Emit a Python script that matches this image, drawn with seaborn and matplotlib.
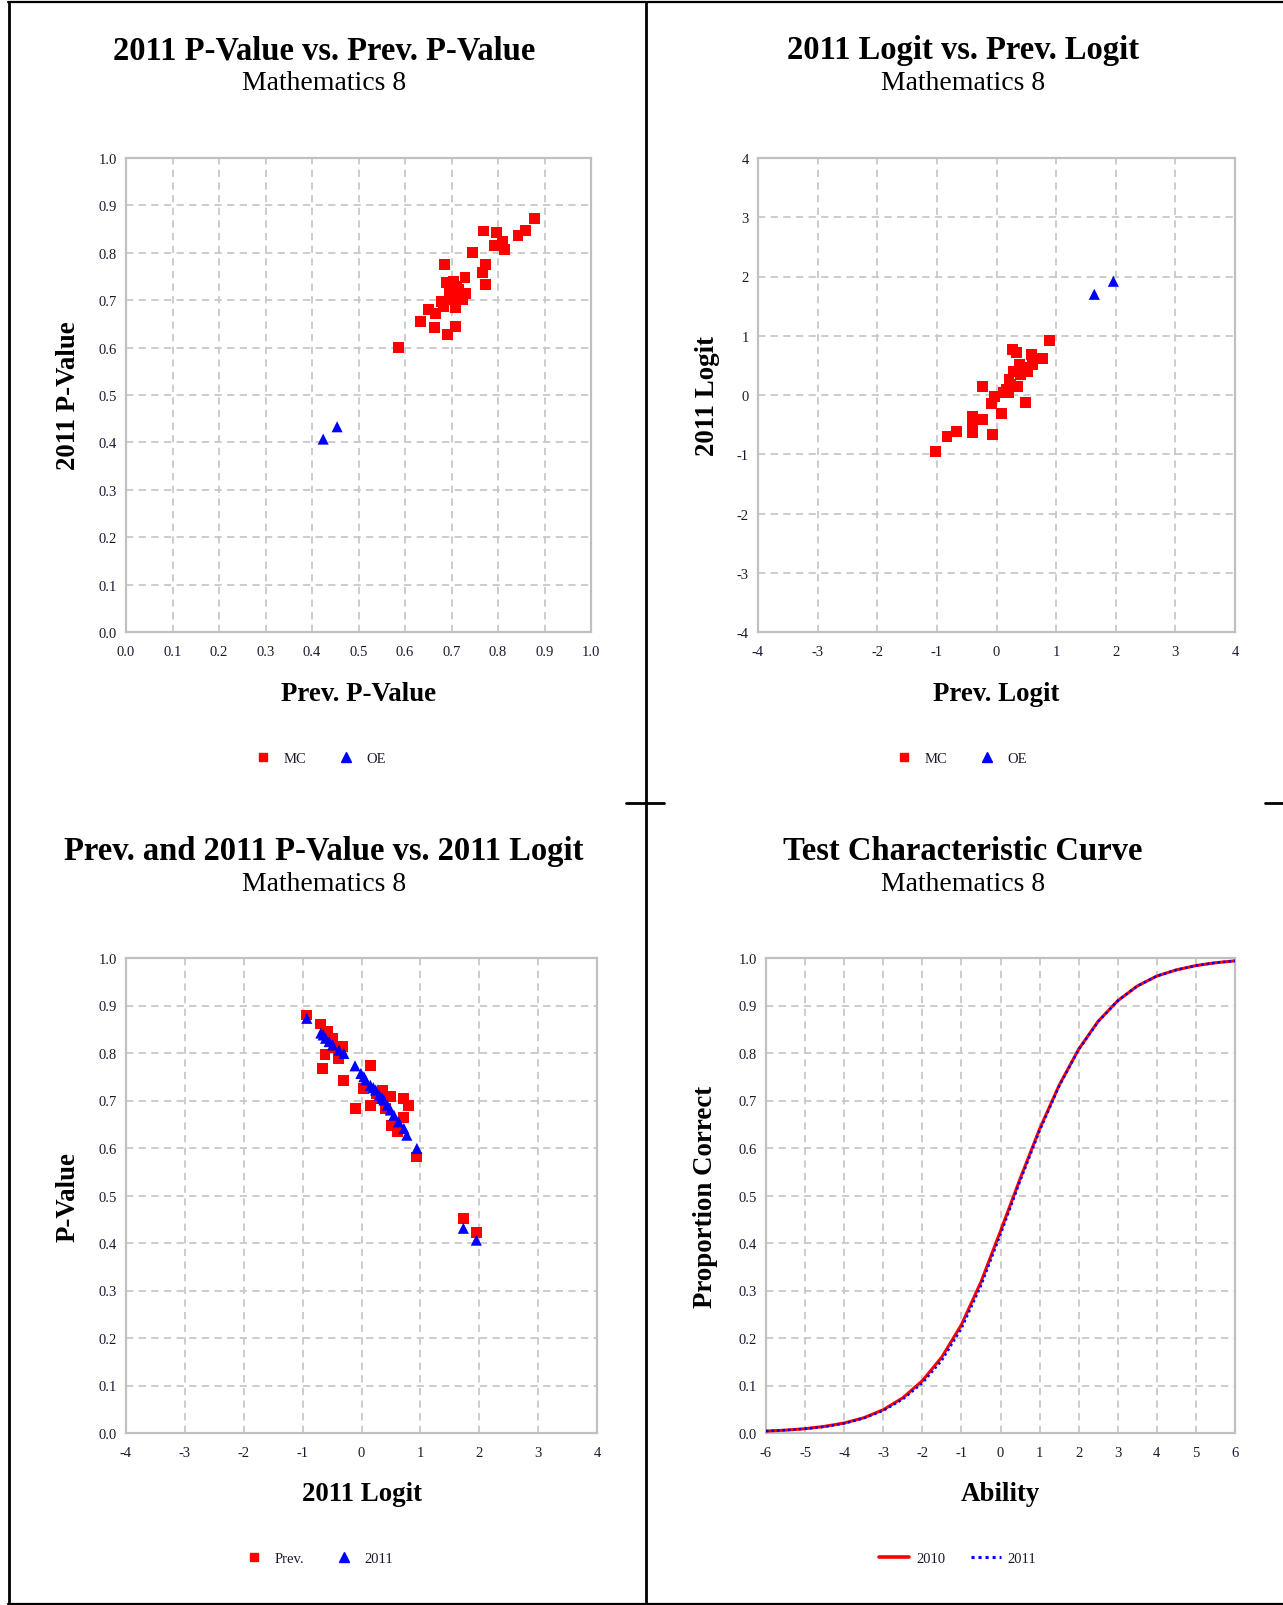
import numpy as np
import pandas as pd
import matplotlib
matplotlib.use("Agg")
import matplotlib.pyplot as plt
import seaborn as sns
from matplotlib.lines import Line2D

# ---------------- data ----------------
# Panel 1: 2011 P-Value vs Prev. P-Value
mc_prev_p = [0.586, 0.634, 0.664, 0.691, 0.708, 0.651, 0.666, 0.682, 0.679, 0.709,
             0.724, 0.731, 0.689, 0.711, 0.729, 0.696, 0.684, 0.745, 0.766, 0.774,
             0.773, 0.768, 0.796, 0.793, 0.809, 0.814, 0.843, 0.859, 0.879, 0.700,
             0.715, 0.705]
mc_cur_p = [0.600, 0.656, 0.643, 0.627, 0.644, 0.680, 0.671, 0.686, 0.698, 0.684,
            0.701, 0.715, 0.737, 0.730, 0.747, 0.715, 0.775, 0.800, 0.758, 0.775,
            0.734, 0.846, 0.842, 0.815, 0.823, 0.807, 0.837, 0.847, 0.873, 0.701,
            0.722, 0.740]
oe_prev_p = [0.424, 0.454]
oe_cur_p = [0.407, 0.433]

# Panel 2: 2011 Logit vs Prev. Logit
mc_prev_logit = [-1.02, -0.83, -0.67, -0.41, -0.41, -0.41, -0.24, -0.07, -0.23, -0.04,
                 -0.09, 0.09, 0.16, 0.21, 0.21, 0.29, 0.36, 0.27, 0.33, 0.48,
                 0.52, 0.59, 0.60, 0.48, 0.77, 0.89, 0.41, 0.24, 0.38, 0.12]
mc_cur_logit = [-0.95, -0.70, -0.61, -0.36, -0.53, -0.64, -0.41, -0.67, 0.14, -0.02,
                -0.14, -0.31, 0.09, 0.04, 0.26, 0.40, 0.15, 0.77, 0.71, 0.47,
                0.40, 0.68, 0.51, -0.12, 0.61, 0.92, 0.35, 0.18, 0.51, 0.05]
oe_prev_logit = [1.64, 1.96]
oe_cur_logit = [1.70, 1.92]

# Panel 3: Prev. and 2011 P-Value vs 2011 Logit
prev_logit_x = [-0.93, -0.69, -0.57, -0.62, -0.67, -0.39, -0.30, 0.15, 0.04, -0.10,
                0.15, 0.35, 0.49, 0.72, 0.80, 0.72, 0.51, 0.61, 0.94, -0.32,
                -0.49, 0.30, 0.41, 0.25, -0.45, 1.73, 1.95]
prev_pvalue = [0.880, 0.861, 0.845, 0.796, 0.768, 0.789, 0.743, 0.773, 0.725, 0.683,
               0.690, 0.722, 0.708, 0.704, 0.690, 0.665, 0.648, 0.634, 0.581, 0.813,
               0.831, 0.704, 0.683, 0.715, 0.812, 0.451, 0.423]
cur_logit_x = [-0.93, -0.69, -0.61, -0.49, -0.38, -0.30, -0.11, -0.01, 0.07, 0.15,
               0.24, 0.30, 0.38, 0.44, 0.49, 0.55, 0.63, 0.72, 0.77, 0.94,
               -0.65, 0.20, 0.35, 0.04, -0.55, 1.73, 1.95]
cur_pvalue = [0.873, 0.842, 0.831, 0.817, 0.806, 0.799, 0.773, 0.757, 0.743, 0.732,
              0.722, 0.711, 0.701, 0.690, 0.680, 0.669, 0.655, 0.641, 0.627, 0.599,
              0.838, 0.727, 0.705, 0.750, 0.824, 0.431, 0.406]

# Panel 4: Test Characteristic Curve
ability = [-6.0, -5.5, -5.0, -4.5, -4.0, -3.5, -3.0, -2.5, -2.0, -1.5, -1.0, -0.5,
           0.0, 0.5, 1.0, 1.5, 2.0, 2.5, 3.0, 3.5, 4.0, 4.5, 5.0, 5.5, 6.0]
tcc_2010 = [0.004, 0.006, 0.009, 0.014, 0.021, 0.032, 0.049, 0.074, 0.110, 0.160,
            0.228, 0.318, 0.425, 0.535, 0.640, 0.732, 0.808, 0.867, 0.910, 0.941,
            0.962, 0.975, 0.984, 0.990, 0.994]
tcc_2011 = [0.004, 0.006, 0.009, 0.013, 0.020, 0.031, 0.047, 0.071, 0.105, 0.153,
            0.220, 0.310, 0.418, 0.530, 0.636, 0.730, 0.807, 0.866, 0.910, 0.941,
            0.962, 0.975, 0.984, 0.990, 0.994]

titles = ["2011 P-Value vs. Prev. P-Value", "2011 Logit vs. Prev. Logit",
          "Prev. and 2011 P-Value vs. 2011 Logit", "Test Characteristic Curve"]
subtitle = "Mathematics 8"

# ---------------- style ----------------
sns.set_style("white")
SERIF = ["Liberation Serif", "DejaVu Serif"]
plt.rcParams["font.family"] = SERIF

W, H = 1283, 1606
fig = plt.figure(figsize=(W / 100, H / 100), dpi=100)
fig.patch.set_facecolor("white")

RED = "#ff0000"
BLUE = "#0000ff"
SPINE = "#c0c0c0"
GRID = "#c8c8c8"
TXT = "#1a1a2e"


def rect(l, t, r, b):
    return [l / W, 1 - b / H, (r - l) / W, (b - t) / H]


def style_axes(ax, xlim, ylim, xticks, yticks, xfmt, yfmt, xlabel, ylabel,
               ylab_x, xlab_y):
    ax.set_xlim(*xlim)
    ax.set_ylim(*ylim)
    ax.set_xticks(xticks)
    ax.set_yticks(yticks)
    ax.set_xticklabels([xfmt.format(v) for v in xticks])
    ax.set_yticklabels([yfmt.format(v) for v in yticks])
    ax.set_axisbelow(True)
    ax.grid(True, color=GRID, linestyle=(0, (4, 3)), linewidth=1.3)
    for s in ax.spines.values():
        s.set_visible(True)
        s.set_color(SPINE)
        s.set_linewidth(1.6)
    ax.tick_params(axis="both", which="major", direction="out", length=5,
                   width=1.1, color=SPINE, labelsize=10.5, labelcolor=TXT)
    ax.tick_params(axis="y", pad=1.5)
    ax.tick_params(axis="x", pad=4.5)
    ax.set_xlabel(xlabel, fontsize=19.4, fontweight="bold", color="black")
    ax.set_ylabel(ylabel, fontsize=19.4, fontweight="bold", color="black")
    ax.xaxis.set_label_coords(0.5, xlab_y)
    ax.yaxis.set_label_coords(ylab_x, 0.5)


def panel_titles(cx, ty, title):
    fig.text(cx / W, 1 - ty / H, title, ha="center", va="center",
             fontsize=23.5, fontweight="bold", color="black")
    fig.text(cx / W, 1 - (ty + 33) / H, subtitle, ha="center", va="center",
             fontsize=20, color="black")


def put_legend(ax, handles, labels, cx, cy, hl=1.0, htp=0.9, cs=2.2):
    ax.legend(handles, labels, loc="center", bbox_to_anchor=(cx / W, 1 - cy / H),
              bbox_transform=fig.transFigure, ncol=2, frameon=False,
              fontsize=10.5, handlelength=hl, handletextpad=htp, columnspacing=cs,
              labelcolor=TXT)


sq = dict(marker="s", s=62, color=RED, edgecolor="none", linewidth=0)
tri = dict(marker="^", s=64, color=BLUE, edgecolor="none", linewidth=0)
h_sq = Line2D([], [], marker="s", color=RED, linestyle="none", markersize=6)
h_tri = Line2D([], [], marker="^", color=BLUE, linestyle="none", markersize=6.5)

# ---- Panel 1 ----
ax1 = fig.add_axes(rect(126, 159, 591, 633))
sns.scatterplot(x=mc_prev_p, y=mc_cur_p, ax=ax1, zorder=3, **sq)
sns.scatterplot(x=oe_prev_p, y=oe_cur_p, ax=ax1, zorder=3, **tri)
t01 = [round(0.1 * i, 1) for i in range(11)]
style_axes(ax1, (0, 1), (0, 1), t01, t01, "{:.1f}", "{:.1f}",
           "Prev. P-Value", "2011 P-Value", -0.097, -0.103)
put_legend(ax1, [h_sq, h_tri], ["MC", "OE"], 321, 759)
panel_titles(324, 51, titles[0])

# ---- Panel 2 ----
ax2 = fig.add_axes(rect(758, 159, 1235, 633))
sns.scatterplot(x=mc_prev_logit, y=mc_cur_logit, ax=ax2, zorder=3, **sq)
sns.scatterplot(x=oe_prev_logit, y=oe_cur_logit, ax=ax2, zorder=3, **tri)
t44 = list(range(-4, 5))
style_axes(ax2, (-4, 4), (-4, 4), t44, t44, "{:d}", "{:d}",
           "Prev. Logit", "2011 Logit", -0.079, -0.103)
put_legend(ax2, [h_sq, h_tri], ["MC", "OE"], 962, 759)
panel_titles(963, 51, titles[1])

# ---- Panel 3 ----
ax3 = fig.add_axes(rect(126, 959, 597, 1434))
sns.scatterplot(x=prev_logit_x, y=prev_pvalue, ax=ax3, zorder=3, **sq)
sns.scatterplot(x=cur_logit_x, y=cur_pvalue, ax=ax3, zorder=4, **tri)
style_axes(ax3, (-4, 4), (0, 1), t44, t01, "{:d}", "{:.1f}",
           "2011 Logit", "P-Value", -0.097, -0.1005)
put_legend(ax3, [h_sq, h_tri], ["Prev.", "2011"], 320, 1559)
panel_titles(324, 852, titles[2])

# ---- Panel 4 ----
ax4 = fig.add_axes(rect(766, 959, 1235, 1434))
sns.lineplot(x=ability, y=tcc_2010, ax=ax4, color=RED, linewidth=2.2, zorder=3)
sns.lineplot(x=ability, y=tcc_2011, ax=ax4, color=BLUE, linewidth=1.8,
             linestyle=(0, (1, 1.2)), zorder=4)
t66 = list(range(-6, 7))
style_axes(ax4, (-6, 6), (0, 1), t66, t01, "{:d}", "{:.1f}",
           "Ability", "Proportion Correct", -0.102, -0.1005)
h_l1 = Line2D([], [], color=RED, linewidth=2.6)
h_l2 = Line2D([], [], color=BLUE, linewidth=2.2, linestyle=(0, (1, 1.3)))
put_legend(ax4, [h_l1, h_l2], ["2010", "2011"], 958, 1559, hl=2.05, htp=0.45, cs=1.8)
panel_titles(963, 852, titles[3])

# ---- table borders ----
def hline(y, x0, x1, lw=1.6):
    fig.add_artist(Line2D([x0 / W, x1 / W], [1 - y / H, 1 - y / H], color="black",
                          linewidth=lw, transform=fig.transFigure))


def vline(x, y0, y1, lw=2.0):
    fig.add_artist(Line2D([x / W, x / W], [1 - y0 / H, 1 - y1 / H], color="black",
                          linewidth=lw, transform=fig.transFigure))


vline(8.5, 3, 1605)
vline(646, 3, 1605)
hline(3.2, 8, W)
hline(1604.5, 8, W)
hline(803.5, 626, 664, lw=2.0)
hline(803.5, 1265, W, lw=2.0)

fig.savefig("out.png", dpi=100, facecolor="white")
